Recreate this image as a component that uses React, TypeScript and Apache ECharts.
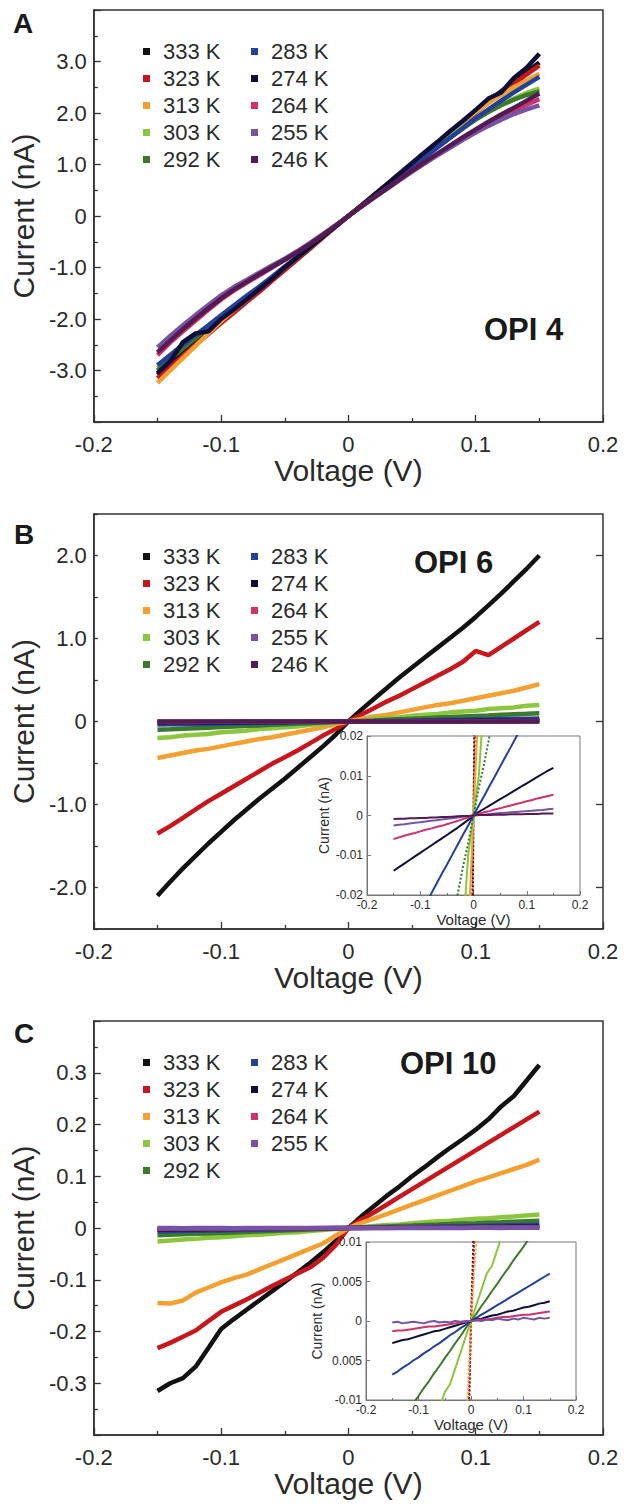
import React, { useEffect, useRef } from "react";
import * as echarts from "echarts";

// ---------------- data ----------------
const VOLTAGE = [-0.15, -0.14, -0.13, -0.12, -0.11, -0.1, -0.09, -0.08, -0.07, -0.06, -0.05, -0.04, -0.03, -0.02, -0.01, 0, 0.01, 0.02, 0.03, 0.04, 0.05, 0.06, 0.07, 0.08, 0.09, 0.1, 0.11, 0.12, 0.13, 0.14, 0.15];

const TEMPS = ["333 K", "323 K", "313 K", "303 K", "292 K", "283 K", "274 K", "264 K", "255 K", "246 K"];
const LEGEND_COL1 = ["333 K", "323 K", "313 K", "303 K", "292 K"];
const LEGEND_COL2 = ["283 K", "274 K", "264 K", "255 K", "246 K"];
const LEGEND_COL2_C = ["283 K", "274 K", "264 K", "255 K"];

const X_LABELS = ["-0.2", "-0.1", "0", "0.1", "0.2"];
const A_Y_LABELS = ["", "-3.0", "-2.0", "-1.0", "0", "1.0", "2.0", "3.0", ""];
const B_Y_LABELS = ["", "-2.0", "", "-1.0", "", "0", "", "1.0", "", "2.0", ""];
const B_Y_MAJOR = [-2, -1, 0, 1, 2];
const C_Y_LABELS = ["", "-0.3", "-0.2", "-0.1", "0", "0.1", "0.2", "0.3", ""];
const INSET_B_Y_LABELS = ["-0.02", "-0.01", "0", "0.01", "0.02"];
const INSET_C_Y_LABELS = ["-0.01", "0.005", "0", "0.005", "0.01"];

// Panel A (OPI 4), current in nA
const A_333 = [-3.08, -2.86, -2.65, -2.45, -2.24, -2.03, -1.83, -1.63, -1.44, -1.24, -1.03, -0.83, -0.62, -0.41, -0.2, 0, 0.2, 0.4, 0.6, 0.8, 1.0, 1.2, 1.4, 1.6, 1.81, 2.02, 2.22, 2.42, 2.6, 2.8, 2.98];
const A_323 = [-3.15, -2.93, -2.71, -2.5, -2.29, -2.08, -1.88, -1.67, -1.47, -1.26, -1.05, -0.84, -0.63, -0.42, -0.21, 0, 0.2, 0.4, 0.6, 0.8, 1.0, 1.2, 1.4, 1.61, 1.81, 2.01, 2.2, 2.39, 2.57, 2.75, 2.92];
const A_313 = [-3.24, -3.0, -2.76, -2.52, -2.28, -2.04, -1.83, -1.62, -1.41, -1.2, -0.99, -0.79, -0.59, -0.39, -0.2, 0, 0.2, 0.4, 0.61, 0.82, 1.02, 1.23, 1.43, 1.64, 1.84, 2.02, 2.19, 2.35, 2.5, 2.63, 2.76];
const A_303 = [-2.95, -2.74, -2.54, -2.35, -2.16, -1.97, -1.78, -1.59, -1.4, -1.2, -1.0, -0.8, -0.6, -0.4, -0.2, 0, 0.2, 0.4, 0.6, 0.79, 0.98, 1.17, 1.36, 1.55, 1.73, 1.9, 2.04, 2.17, 2.28, 2.39, 2.48];
const A_292 = [-3.0, -2.78, -2.57, -2.37, -2.17, -1.97, -1.78, -1.59, -1.4, -1.2, -1.0, -0.8, -0.6, -0.4, -0.2, 0, 0.19, 0.38, 0.58, 0.77, 0.96, 1.15, 1.34, 1.52, 1.7, 1.87, 2.02, 2.15, 2.26, 2.35, 2.42];
const A_283 = [-2.9, -2.7, -2.5, -2.31, -2.12, -1.93, -1.74, -1.55, -1.37, -1.18, -0.98, -0.79, -0.59, -0.39, -0.2, 0, 0.19, 0.38, 0.57, 0.76, 0.95, 1.14, 1.33, 1.52, 1.71, 1.9, 2.07, 2.24, 2.4, 2.55, 2.7];
const A_274 = [-3.05, -2.82, -2.45, -2.28, -2.24, -2.0, -1.82, -1.62, -1.42, -1.22, -1.0, -0.8, -0.6, -0.4, -0.2, 0, 0.2, 0.41, 0.61, 0.82, 1.03, 1.24, 1.44, 1.65, 1.85, 2.06, 2.28, 2.4, 2.68, 2.88, 3.15];
const A_264 = [-2.7, -2.46, -2.24, -2.03, -1.82, -1.62, -1.45, -1.3, -1.15, -1.0, -0.85, -0.69, -0.53, -0.36, -0.18, 0, 0.18, 0.36, 0.53, 0.7, 0.87, 1.03, 1.19, 1.35, 1.5, 1.65, 1.79, 1.92, 2.05, 2.16, 2.27];
const A_255 = [-2.55, -2.33, -2.12, -1.92, -1.73, -1.54, -1.38, -1.24, -1.1, -0.96, -0.83, -0.68, -0.52, -0.35, -0.18, 0, 0.18, 0.35, 0.52, 0.69, 0.86, 1.02, 1.18, 1.33, 1.48, 1.62, 1.75, 1.87, 1.98, 2.07, 2.15];
const A_246 = [-2.65, -2.42, -2.2, -1.99, -1.79, -1.6, -1.43, -1.28, -1.13, -0.99, -0.85, -0.7, -0.54, -0.37, -0.19, 0, 0.18, 0.36, 0.53, 0.71, 0.88, 1.05, 1.21, 1.37, 1.53, 1.68, 1.83, 1.97, 2.1, 2.24, 2.38];

// Panel B (OPI 6)
const B_333 = [-2.1, -1.93, -1.77, -1.62, -1.47, -1.33, -1.19, -1.06, -0.93, -0.81, -0.69, -0.56, -0.43, -0.3, -0.16, 0, 0.14, 0.27, 0.4, 0.53, 0.65, 0.77, 0.89, 1.01, 1.13, 1.26, 1.4, 1.54, 1.69, 1.84, 2.0];
const B_323 = [-1.35, -1.26, -1.16, -1.06, -0.96, -0.87, -0.78, -0.69, -0.6, -0.51, -0.43, -0.35, -0.26, -0.17, -0.09, 0, 0.08, 0.16, 0.24, 0.31, 0.39, 0.47, 0.55, 0.63, 0.72, 0.85, 0.8, 0.9, 1.0, 1.1, 1.2];
const B_313 = [-0.44, -0.41, -0.38, -0.35, -0.33, -0.3, -0.27, -0.24, -0.21, -0.19, -0.16, -0.13, -0.1, -0.07, -0.03, 0, 0.03, 0.06, 0.08, 0.11, 0.14, 0.17, 0.2, 0.22, 0.25, 0.28, 0.31, 0.34, 0.37, 0.41, 0.45];
const B_303 = [-0.2, -0.19, -0.17, -0.16, -0.15, -0.13, -0.12, -0.11, -0.09, -0.08, -0.07, -0.06, -0.04, -0.03, -0.01, 0, 0.01, 0.03, 0.04, 0.05, 0.07, 0.08, 0.09, 0.11, 0.12, 0.13, 0.15, 0.16, 0.17, 0.19, 0.2];
const B_292 = [-0.1, -0.094, -0.087, -0.08, -0.074, -0.067, -0.06, -0.054, -0.047, -0.04, -0.034, -0.027, -0.02, -0.013, -0.007, 0, 0.007, 0.013, 0.02, 0.027, 0.033, 0.04, 0.047, 0.053, 0.06, 0.067, 0.073, 0.08, 0.087, 0.093, 0.1];
const B_283 = [-0.037, -0.0345, -0.032, -0.0296, -0.0272, -0.0248, -0.0222, -0.0198, -0.0173, -0.0148, -0.0124, -0.0099, -0.0074, -0.0049, -0.0025, 0, 0.0025, 0.0049, 0.0074, 0.0098, 0.0123, 0.0148, 0.0172, 0.0197, 0.0222, 0.0246, 0.027, 0.0295, 0.032, 0.0344, 0.0369];
const B_274 = [-0.0139, -0.013, -0.0121, -0.0112, -0.0103, -0.0094, -0.0085, -0.0076, -0.0067, -0.0058, -0.0049, -0.004, -0.0031, -0.0021, -0.0011, 0, 0.0009, 0.0017, 0.0025, 0.0033, 0.0041, 0.0049, 0.0057, 0.0065, 0.0073, 0.0081, 0.0089, 0.0097, 0.0105, 0.0113, 0.012];
const B_264 = [-0.0059, -0.0055, -0.0051, -0.0047, -0.0044, -0.004, -0.0036, -0.0033, -0.0029, -0.0026, -0.0022, -0.0018, -0.0014, -0.0009, -0.0005, 0, 0.0004, 0.0008, 0.0011, 0.0015, 0.0018, 0.0022, 0.0025, 0.0029, 0.0032, 0.0036, 0.0039, 0.0043, 0.0046, 0.0049, 0.0052];
const B_255 = [-0.0025, -0.0023, -0.0022, -0.002, -0.0018, -0.0017, -0.0015, -0.0013, -0.0012, -0.001, -0.0008, -0.0007, -0.0005, -0.0003, -0.0002, 0, 0.0001, 0.0002, 0.0004, 0.0005, 0.0006, 0.0007, 0.0008, 0.0009, 0.001, 0.0011, 0.0012, 0.0013, 0.0014, 0.0016, 0.0017];
const B_246 = [-0.0009, -0.0008, -0.0008, -0.0007, -0.0007, -0.0006, -0.0006, -0.0005, -0.0005, -0.0004, -0.0004, -0.0003, -0.0002, -0.0001, -0.0001, 0, 0.0001, 0.0001, 0.0001, 0.0002, 0.0002, 0.0002, 0.0003, 0.0003, 0.0003, 0.0004, 0.0004, 0.0004, 0.0005, 0.0005, 0.0005];

// Panel C (OPI 10)
const C_333 = [-0.315, -0.3, -0.29, -0.268, -0.232, -0.195, -0.176, -0.158, -0.14, -0.122, -0.104, -0.086, -0.067, -0.047, -0.025, 0, 0.022, 0.042, 0.062, 0.08, 0.1, 0.118, 0.137, 0.155, 0.172, 0.19, 0.21, 0.235, 0.255, 0.285, 0.315];
const C_323 = [-0.232, -0.222, -0.21, -0.198, -0.18, -0.162, -0.15, -0.138, -0.125, -0.112, -0.1, -0.088, -0.076, -0.058, -0.033, 0, 0.016, 0.03, 0.045, 0.06, 0.075, 0.09, 0.105, 0.12, 0.135, 0.15, 0.165, 0.18, 0.195, 0.21, 0.225];
const C_313 = [-0.145, -0.146, -0.14, -0.125, -0.115, -0.105, -0.097, -0.09, -0.08, -0.07, -0.06, -0.05, -0.04, -0.03, -0.015, 0, 0.01, 0.018, 0.027, 0.036, 0.045, 0.054, 0.063, 0.072, 0.081, 0.09, 0.098, 0.106, 0.114, 0.122, 0.132];
const C_303 = [-0.026, -0.024, -0.022, -0.021, -0.019, -0.018, -0.016, -0.014, -0.013, -0.011, -0.009, -0.008, -0.006, -0.004, -0.002, 0, 0.002, 0.004, 0.006, 0.007, 0.009, 0.011, 0.013, 0.014, 0.016, 0.018, 0.019, 0.021, 0.022, 0.024, 0.026];
const C_292 = [-0.0142, -0.0132, -0.0123, -0.0113, -0.0104, -0.0095, -0.0085, -0.0076, -0.0066, -0.0057, -0.0047, -0.0038, -0.0028, -0.0019, -0.0009, 0, 0.0009, 0.0019, 0.0028, 0.0038, 0.0047, 0.0057, 0.0066, 0.0076, 0.0085, 0.0094, 0.0104, 0.0113, 0.0123, 0.0132, 0.0141];
const C_283 = [-0.0068, -0.0064, -0.0059, -0.0055, -0.005, -0.0046, -0.0041, -0.0037, -0.0032, -0.0028, -0.0023, -0.0018, -0.0014, -0.0009, -0.0005, 0, 0.0004, 0.0008, 0.0012, 0.0016, 0.002, 0.0024, 0.0028, 0.0032, 0.0036, 0.004, 0.0044, 0.0048, 0.0052, 0.0056, 0.006];
const C_274 = [-0.0028, -0.0026, -0.0024, -0.0023, -0.0021, -0.0019, -0.0017, -0.0015, -0.0013, -0.0012, -0.001, -0.0008, -0.0006, -0.0004, -0.0002, 0, 0.0002, 0.0003, 0.0005, 0.0007, 0.0008, 0.001, 0.0012, 0.0013, 0.0015, 0.0017, 0.0018, 0.002, 0.0022, 0.0023, 0.0025];
const C_264 = [-0.0013, -0.0012, -0.0012, -0.0011, -0.001, -0.0009, -0.0008, -0.0007, -0.0007, -0.0006, -0.0005, -0.0004, -0.0003, -0.0002, -0.0001, 0, 0.0001, 0.0002, 0.0002, 0.0003, 0.0004, 0.0005, 0.0005, 0.0006, 0.0007, 0.0008, 0.0008, 0.0009, 0.001, 0.0011, 0.0012];
const C_255 = [-0.0002, -0.0001, -0.0003, -0.0002, -0.0001, -0.0002, -0.0003, -0.0001, 0, -0.0002, -0.0001, -0.0002, 0, -0.0001, 0, 0, 0.0001, 0, 0.0002, 0.0001, 0.0003, 0.0002, 0.0001, 0.0003, 0.0002, 0.0004, 0.0003, 0.0002, 0.0004, 0.0003, 0.0004];

const PANEL_A = [A_333, A_323, A_313, A_303, A_292, A_283, A_274, A_264, A_255, A_246];
const PANEL_B = [B_333, B_323, B_313, B_303, B_292, B_283, B_274, B_264, B_255, B_246];
const PANEL_C = [C_333, C_323, C_313, C_303, C_292, C_283, C_274, C_264, C_255];

// ---------------- styles ----------------
const COLORS: Record<string, string> = {
  "333 K": "#121212",
  "323 K": "#c8161d",
  "313 K": "#f4a030",
  "303 K": "#8cc63e",
  "292 K": "#3a7a2a",
  "283 K": "#23419a",
  "274 K": "#0e0e3a",
  "264 K": "#d2306a",
  "255 K": "#7852a4",
  "246 K": "#541a52",
};
const FONT = "'Liberation Sans', Arial, Helvetica, sans-serif";
const INK = "#2a2a2a";

function idx(v: number, min: number, step: number) {
  return Math.round((v - min) / step);
}

function mainX(gridIndex: number) {
  return {
    type: "value", gridIndex, min: -0.2, max: 0.2, interval: 0.1,
    axisLine: { show: true, onZero: false, lineStyle: { color: "#333", width: 1.5 } },
    axisTick: { show: true, inside: true, length: 7, lineStyle: { color: "#333", width: 1.3 } },
    minorTick: { show: true, splitNumber: 2, length: 4, lineStyle: { color: "#333", width: 1.3 } },
    splitLine: { show: false },
    axisLabel: { fontSize: 22, color: INK, fontFamily: FONT, margin: 11, formatter: (v: number) => X_LABELS[idx(v, -0.2, 0.1)] ?? "" },
    name: "Voltage (V)", nameLocation: "middle", nameGap: 27,
    nameTextStyle: { fontSize: 30, color: INK, fontFamily: FONT },
  };
}

function mainY(gridIndex: number, min: number, max: number, interval: number, labels: string[], minor: boolean, tickLen: number) {
  return {
    type: "value", gridIndex, min, max, interval,
    axisLine: { show: true, onZero: false, lineStyle: { color: "#333", width: 1.5 } },
    axisTick: { show: true, inside: true, length: tickLen, lineStyle: { color: "#333", width: 1.3 } },
    minorTick: { show: minor, splitNumber: 2, length: 4, lineStyle: { color: "#333", width: 1.3 } },
    splitLine: { show: false },
    axisLabel: { fontSize: 22, color: INK, fontFamily: FONT, margin: 7, formatter: (v: number) => labels[idx(v, min, interval)] ?? "" },
    name: "Current (nA)", nameLocation: "middle", nameGap: 52,
    nameTextStyle: { fontSize: 30, color: INK, fontFamily: FONT },
  };
}

function insetX(gridIndex: number) {
  return {
    type: "value", gridIndex, min: -0.2, max: 0.2, interval: 0.1, z: 11,
    axisLine: { show: true, onZero: false, lineStyle: { color: "#777", width: 1 } },
    axisTick: { show: true, inside: true, length: 4, lineStyle: { color: "#777" } },
    minorTick: { show: true, splitNumber: 2, length: 2, lineStyle: { color: "#777" } },
    splitLine: { show: false },
    axisLabel: { fontSize: 12, color: INK, fontFamily: FONT, margin: 4, formatter: (v: number) => X_LABELS[idx(v, -0.2, 0.1)] ?? "" },
    name: "Voltage (V)", nameLocation: "middle", nameGap: 15,
    nameTextStyle: { fontSize: 15, color: INK, fontFamily: FONT },
  };
}

function insetY(gridIndex: number, min: number, max: number, interval: number, labels: string[], gap: number) {
  return {
    type: "value", gridIndex, min, max, interval, z: 11,
    axisLine: { show: true, onZero: false, lineStyle: { color: "#777", width: 1 } },
    axisTick: { show: true, inside: true, length: 4, lineStyle: { color: "#777" } },
    minorTick: { show: false },
    splitLine: { show: false },
    axisLabel: { fontSize: 12, color: INK, fontFamily: FONT, margin: 4, formatter: (v: number) => labels[idx(v, min, interval)] ?? "" },
    name: "Current (nA)", nameLocation: "middle", nameGap: gap,
    nameTextStyle: { fontSize: 14, color: INK, fontFamily: FONT },
  };
}

function buildSeries(panel: number[][], xIdx: number, yIdx: number, width: number, z: number, dotted: string[]) {
  return panel.map((vals, k) => {
    const name = TEMPS[k];
    const c = COLORS[name];
    return {
      type: "line", name, xAxisIndex: xIdx, yAxisIndex: yIdx,
      data: VOLTAGE.map((v, i) => [v, vals[i]]),
      showSymbol: false, symbol: "none", clip: true, z,
      itemStyle: { color: c },
      lineStyle: { color: c, width, type: dotted.includes(name) ? "dotted" : "solid" },
      emphasis: { disabled: true },
    };
  });
}

function legend(names: string[], left: number, top: number) {
  return {
    data: names, orient: "vertical", left, top, padding: 0, itemGap: 0,
    icon: "rect", itemWidth: 7, itemHeight: 7, selectedMode: false,
    textStyle: { fontSize: 22, color: INK, fontFamily: FONT, lineHeight: 27, padding: [0, 0, 0, 8] },
  };
}

function label(text: string, x: number, y: number, size: number) {
  return {
    type: "text", x, y, z: 20,
    style: { text, fontSize: size, fontWeight: "bold", fontFamily: FONT, fill: "#1a1a1a", verticalAlign: "middle", align: "left" },
  };
}

export default function App() {
  const ref = useRef<HTMLDivElement>(null);
  useEffect(() => {
    if (!ref.current) return;
    const chart = echarts.init(ref.current, undefined, { renderer: "svg" });
    const frame = { show: true, borderColor: "#333", borderWidth: 1.5, backgroundColor: "transparent" };
    const insetFrame = { show: true, borderColor: "#777", borderWidth: 1, backgroundColor: "#ffffff", z: 10 };
    const option: any = {
      animation: false,
      backgroundColor: "#ffffff",
      grid: [
        { left: 92, top: 10, width: 511, height: 412, ...frame },
        { left: 92, top: 514, width: 511, height: 415, ...frame },
        { left: 92, top: 1021, width: 511, height: 414, ...frame },
        { left: 367, top: 736, width: 213, height: 159, ...insetFrame },
        { left: 366, top: 1242, width: 210, height: 158, ...insetFrame },
      ],
      xAxis: [mainX(0), mainX(1), mainX(2), insetX(3), insetX(4)],
      yAxis: [
        mainY(0, -4, 4, 1, A_Y_LABELS, true, 7),
        mainY(1, -2.5, 2.5, 0.5, B_Y_LABELS, false, 4),
        mainY(2, -0.4, 0.4, 0.1, C_Y_LABELS, true, 7),
        insetY(3, -0.02, 0.02, 0.01, INSET_B_Y_LABELS, 36),
        insetY(4, -0.01, 0.01, 0.005, INSET_C_Y_LABELS, 42),
        {
          type: "value", gridIndex: 1, min: -2.5, max: 2.5, interval: 0.5,
          axisLine: { show: false, onZero: false }, axisLabel: { show: false }, splitLine: { show: false },
          axisTick: { show: true, inside: true, length: 7, customValues: B_Y_MAJOR, lineStyle: { color: "#333", width: 1.3 } },
        },
      ],
      legend: [
        legend(LEGEND_COL1, 143, 38), legend(LEGEND_COL2, 251, 38),
        legend(LEGEND_COL1, 143, 543), legend(LEGEND_COL2, 251, 543),
        legend(LEGEND_COL1, 143, 1049), legend(LEGEND_COL2_C, 251, 1049),
      ],
      graphic: [
        label("A", 13, 23, 28), label("B", 14, 534, 28), label("C", 14, 1033, 28),
        label("OPI 4", 484, 329, 31), label("OPI 6", 414, 562, 31), label("OPI 10", 400, 1063, 31),
      ],
      series: [
        ...buildSeries(PANEL_A, 0, 0, 4.5, 2, []),
        ...buildSeries(PANEL_B, 1, 1, 4.5, 2, []),
        ...buildSeries(PANEL_C, 2, 2, 4.5, 2, []),
        ...buildSeries(PANEL_B, 3, 3, 2, 12, ["333 K", "323 K", "292 K"]),
        ...buildSeries(PANEL_C, 4, 4, 2, 12, ["333 K", "323 K", "313 K"]),
      ],
    };
    chart.setOption(option);
    return () => chart.dispose();
  }, []);
  return <div ref={ref} style={{ position: "absolute", left: 0, top: 0, width: 624, height: 1506 }} />;
}
